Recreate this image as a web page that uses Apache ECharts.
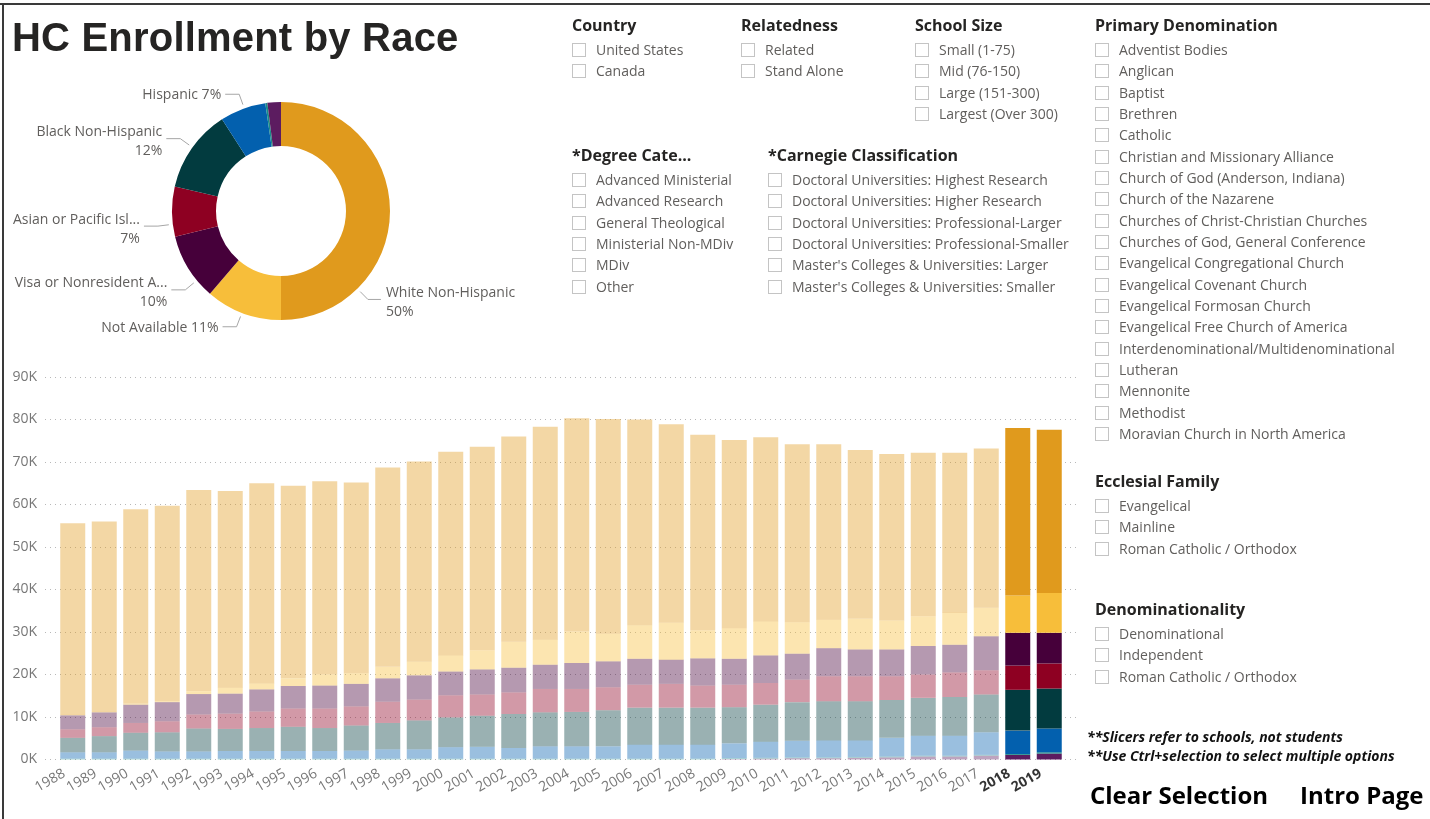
<!DOCTYPE html>
<html>
<head>
<meta charset="utf-8">
<title>HC Enrollment by Race</title>
<script src="https://cdn.jsdelivr.net/npm/echarts@6/dist/echarts.min.js"></script>
<style>
  html, body { margin: 0; padding: 0; background: #fff; }
  #page { position: relative; width: 1430px; height: 819px; overflow: hidden; font-family: 'Open Sans', sans-serif; }
  #chart { position: absolute; left: 0; top: 0; width: 1430px; height: 819px; }
  .frame-top { position: absolute; left: 0; top: 3px; width: 1430px; height: 2px; background: #3a3a3a; }
  .frame-left { position: absolute; left: 2px; top: 3px; width: 2px; height: 816px; background: #3a3a3a; }
  .title { position: absolute; left: 12px; top: 15px; font: bold 40px 'Liberation Sans', Arial, sans-serif; color: #252423; line-height: 44px; letter-spacing: 0.2px; white-space: nowrap; }
  .sl-head { position: absolute; font-weight: 700; font-size: 16px; color: #252423; line-height: 22px; white-space: nowrap; }
  .sl-item { position: absolute; font-size: 14px; color: #605e5c; line-height: 20px; padding-left: 24px; white-space: nowrap; }
  .sl-item i { position: absolute; left: 0; top: 3px; width: 12px; height: 12px; border: 1px solid #c4c4c4; }
  .note { position: absolute; left: 1087px; font-weight: 700; font-style: italic; font-size: 14px; color: #111; line-height: 19px; white-space: nowrap; }
  .btn { position: absolute; top: 780px; font-weight: 700; font-size: 24px; color: #000; line-height: 30px; white-space: nowrap; }
</style>
</head>
<body>
<div id="page">
  <div id="chart"></div>
  <div class="frame-top"></div>
  <div class="frame-left"></div>
  <div class="title">HC Enrollment by Race</div>
  <div id="slicers"></div>
  <div class="note" style="top:727px">**Slicers refer to schools, not students</div>
  <div class="note" style="top:746px">**Use Ctrl+selection to select multiple options</div>
  <div class="btn" style="left:1090px">Clear Selection</div>
  <div class="btn" style="left:1300px">Intro Page</div>
</div>
<script>
  // years on the x axis, the last two are the selected (highlighted) ones
  var years = ['1988', '1989', '1990', '1991', '1992', '1993', '1994', '1995', '1996', '1997',
    '1998', '1999', '2000', '2001', '2002', '2003', '2004', '2005', '2006', '2007',
    '2008', '2009', '2010', '2011', '2012', '2013', '2014', '2015', '2016', '2017',
    '2018', '2019'];
  var highlightYears = ['2018', '2019'];

  // enrollment per race, bottom of the stack first
  var twoOrMore = [0, 0, 0, 0, 0, 0, 0, 0, 0, 0, 0, 0, 0, 0, 0, 0, 0, 0, 0, 0,
    0, 100, 200, 300, 300, 400, 500, 700, 700, 900, 1100, 1400];
  var amerIndian = [200, 200, 200, 200, 200, 200, 200, 200, 200, 200, 200, 200, 200, 200, 200, 200,
    200, 200, 200, 200, 200, 200, 200, 200, 200, 200, 200, 200, 200, 200, 200, 300];
  var hispanic = [1500, 1500, 1900, 1700, 1700, 1800, 1800, 1800, 1800, 1900, 2200, 2200, 2700, 2800, 2500, 2900,
    2900, 2900, 3300, 3300, 3300, 3500, 3800, 3900, 4000, 3900, 4400, 4700, 4700, 5300, 5500, 5600];
  var black = [3400, 3800, 4200, 4500, 5400, 5200, 5400, 5700, 5400, 5900, 6200, 6800, 7000, 7300, 8000, 8000,
    8100, 8500, 8700, 8700, 8700, 8500, 8700, 9100, 9200, 9200, 8900, 8900, 9100, 8900, 9600, 9400];
  var asian = [2000, 2100, 2300, 2600, 3300, 3600, 3900, 4300, 4600, 4500, 5000, 4900, 5200, 5000, 5100, 5500,
    5400, 5400, 5400, 5600, 5200, 5300, 5100, 5300, 5900, 5900, 5600, 5500, 5800, 5700, 5700, 5900];
  var visa = [3300, 3500, 4300, 4500, 4800, 4700, 5200, 5300, 5400, 5300, 5500, 5700, 5600, 5900, 5800, 5700,
    6100, 6100, 6100, 5700, 6400, 6100, 6500, 6100, 6600, 6300, 6300, 6700, 6500, 8000, 7700, 7200];
  var notAvailable = [100, 100, 200, 200, 700, 1400, 1400, 1800, 2600, 2500, 2700, 3200, 3800, 4500, 6100, 5900,
    7400, 6500, 7900, 8700, 6600, 7200, 8000, 7400, 6700, 7200, 6800, 7000, 7500, 6700, 8800, 9400];
  var white = [45100, 44800, 45800, 46000, 47300, 46300, 47100, 45300, 45500, 44900, 46900, 47100, 47900, 47900, 48300, 50100,
    50200, 50500, 48400, 46700, 46000, 44300, 43300, 41900, 41300, 39700, 39200, 38500, 37700, 37500, 39400, 38400];

  var raceNames = ['Two or More Races', 'American Indian or Alaskan Native', 'Hispanic', 'Black Non-Hispanic',
    'Asian or Pacific Islander', 'Visa or Nonresident Alien', 'Not Available', 'White Non-Hispanic'];
  var raceValues = [twoOrMore, amerIndian, hispanic, black, asian, visa, notAvailable, white];
  var raceColors = ['#5c1c60', '#1a8c88', '#0360ae', '#023b3f', '#8e0022', '#46003a', '#f7be3a', '#e09a1d'];

  // donut shares (%), clockwise from 12 o'clock
  var pieNames = ['White Non-Hispanic', 'Not Available', 'Visa or Nonresident Alien', 'Asian or Pacific Islander',
    'Black Non-Hispanic', 'Hispanic', 'American Indian or Alaskan Native', 'Two or More Races'];
  var pieShare = [50.0, 11.3, 9.9, 7.4, 12.3, 6.8, 0.3, 2.0];
  var pieLabelText = {
    'Visa or Nonresident Alien': 'Visa or Nonresident A...',
    'Asian or Pacific Islander': 'Asian or Pacific Isl...'
  };
  var oneLineLabels = ['Hispanic', 'Not Available'];

  // slicer panels
  var slicers = [
    { title: 'Country', x: 572, y: 25, items: ['United States', 'Canada'] },
    { title: 'Relatedness', x: 741, y: 25, items: ['Related', 'Stand Alone'] },
    { title: 'School Size', x: 915, y: 25, items: ['Small (1-75)', 'Mid (76-150)', 'Large (151-300)', 'Largest (Over 300)'] },
    { title: '*Degree Cate...', x: 572, y: 155, items: ['Advanced Ministerial', 'Advanced Research', 'General Theological',
      'Ministerial Non-MDiv', 'MDiv', 'Other'] },
    { title: '*Carnegie Classification', x: 768, y: 155, items: ['Doctoral Universities: Highest Research',
      'Doctoral Universities: Higher Research', 'Doctoral Universities: Professional-Larger',
      'Doctoral Universities: Professional-Smaller', "Master's Colleges & Universities: Larger",
      "Master's Colleges & Universities: Smaller"] },
    { title: 'Primary Denomination', x: 1095, y: 25, items: ['Adventist Bodies', 'Anglican', 'Baptist', 'Brethren',
      'Catholic', 'Christian and Missionary Alliance', 'Church of God (Anderson, Indiana)', 'Church of the Nazarene',
      'Churches of Christ-Christian Churches', 'Churches of God, General Conference', 'Evangelical Congregational Church',
      'Evangelical Covenant Church', 'Evangelical Formosan Church', 'Evangelical Free Church of America',
      'Interdenominational/Multidenominational', 'Lutheran', 'Mennonite', 'Methodist', 'Moravian Church in North America'] },
    { title: 'Ecclesial Family', x: 1095, y: 481, items: ['Evangelical', 'Mainline', 'Roman Catholic / Orthodox'] },
    { title: 'Denominationality', x: 1095, y: 609, items: ['Denominational', 'Independent', 'Roman Catholic / Orthodox'] }
  ];

  var html = '';
  slicers.forEach(function (s) {
    html += '<div class="sl-head" style="left:' + s.x + 'px;top:' + (s.y - 11) + 'px">' + s.title + '</div>';
    s.items.forEach(function (t, i) {
      var cy = s.y + 25 + i * 21.33;
      html += '<div class="sl-item" style="left:' + s.x + 'px;top:' + (cy - 10).toFixed(1) + 'px"><i></i>' +
        t.replace(/&/g, '&amp;') + '</div>';
    });
  });
  document.getElementById('slicers').innerHTML = html;

  var PIE_CX = 281, PIE_CY = 211, PIE_R = 109;
  var pieTotal = pieShare.reduce(function (a, b) { return a + b; }, 0);
  // where each leader line leaves the ring (deg, clockwise from top), power bi style
  var labelAngles = {
    'White Non-Hispanic': 135.5,
    'Not Available': 201,
    'Visa or Nonresident Alien': 230.5,
    'Asian or Pacific Islander': 263,
    'Black Non-Hispanic': 305.7,
    'Hispanic': 340.3
  };

  var barSeries = raceNames.map(function (name, k) {
    return {
      name: name,
      type: 'bar',
      stack: 'race',
      barWidth: 25,
      silent: true,
      itemStyle: { color: raceColors[k] },
      data: raceValues[k].map(function (v, i) {
        return { value: v, itemStyle: { opacity: highlightYears.indexOf(years[i]) >= 0 ? 1 : 0.4 } };
      })
    };
  });

  function ringPoint(deg, r) {
    var a = deg * Math.PI / 180;
    return [PIE_CX + r * Math.sin(a), PIE_CY - r * Math.cos(a)];
  }

  var pieSeries = {
    type: 'pie',
    center: [PIE_CX, PIE_CY],
    radius: [65, PIE_R],
    startAngle: 90,
    clockwise: true,
    avoidLabelOverlap: false,
    silent: true,
    label: {
      fontSize: 14,
      color: '#605e5c',
      lineHeight: 19,
      formatter: function (p) {
        var pct = Math.round(p.value / pieTotal * 100) + '%';
        var txt = pieLabelText[p.name] || p.name;
        return oneLineLabels.indexOf(p.name) >= 0 ? txt + ' ' + pct : txt + '\n' + pct;
      }
    },
    labelLine: { length: 16, length2: 14, lineStyle: { color: '#a6a6a6', width: 1 } },
    labelLayout: function (p) {
      var name = pieNames[p.dataIndex];
      var deg = labelAngles[name];
      if (deg == null) return {};
      var start = ringPoint(deg, PIE_R + 4);
      var elbow = ringPoint(deg, PIE_R + 15);
      var right = deg < 180;
      var end = [elbow[0] + (right ? 13 : -14), elbow[1]];
      var oneLine = oneLineLabels.indexOf(name) >= 0;
      return {
        x: end[0] + (right ? 5 : -4),
        y: elbow[1] + (oneLine ? 1 : 3),
        align: right ? 'left' : 'right',
        verticalAlign: 'middle',
        labelLinePoints: [start, elbow, end]
      };
    },
    data: pieNames.map(function (n, i) {
      var item = { name: n, value: pieShare[i], itemStyle: { color: raceColors[raceNames.indexOf(n)] } };
      if (pieShare[i] < 3) {
        item.label = { show: false };
        item.labelLine = { show: false };
      }
      return item;
    })
  };

  var chart = echarts.init(document.getElementById('chart'));
  chart.setOption({
    animation: false,
    textStyle: { fontFamily: 'Open Sans' },
    grid: [
      { left: 57, top: 377, width: 1008, height: 382.5 },
      // wider box only for the dotted gridlines, which run past the bars
      { left: 45, top: 377, width: 1033, height: 382.5 }
    ],
    xAxis: [{
      type: 'category',
      data: years,
      axisLine: { show: false },
      axisTick: { show: false },
      axisLabel: {
        interval: 0,
        rotate: 30,
        margin: 8,
        padding: [0, 10, 0, 0],
        fontSize: 14,
        color: '#777',
        formatter: function (v) {
          return highlightYears.indexOf(v) >= 0 ? '{b|' + v + '}' : v;
        },
        rich: { b: { fontWeight: 'bold', color: '#333', fontSize: 14 } }
      }
    }, {
      gridIndex: 1, type: 'value', show: false
    }],
    yAxis: [{
      type: 'value',
      min: 0,
      max: 90000,
      interval: 10000,
      axisLabel: {
        fontSize: 14,
        color: '#777',
        margin: 20,
        formatter: function (v) { return v / 1000 + 'K'; }
      },
      splitLine: { show: false }
    }, {
      gridIndex: 1,
      type: 'value',
      min: 0,
      max: 90000,
      interval: 10000,
      axisLabel: { show: false },
      axisLine: { show: false },
      axisTick: { show: false },
      splitLine: { lineStyle: { type: [1, 4], color: '#b8b8b8' } }
    }],
    series: barSeries.concat([pieSeries])
  });
</script>
</body>
</html>
